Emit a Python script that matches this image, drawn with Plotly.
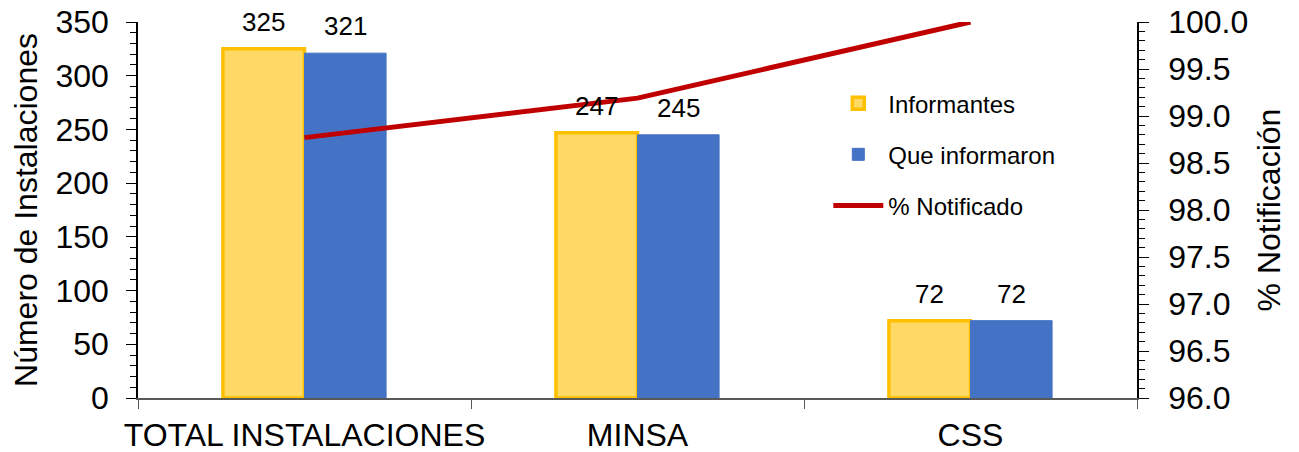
import plotly.graph_objects as go

categories = ["TOTAL INSTALACIONES", "MINSA", "CSS"]
informantes = [325, 247, 72]
que_informaron = [321, 245, 72]
pct_notificado = [98.77, 99.19, 100.0]

FONT = "Liberation Sans, Arial, sans-serif"

fig = go.Figure()
fig.add_trace(go.Bar(
    x=categories, y=informantes, name="Informantes",
    marker=dict(color="#FFD966", line=dict(color="#FFC000", width=3.5)),
    legendgroup="a",
))
fig.add_trace(go.Bar(
    x=categories, y=que_informaron, name="Que informaron",
    marker=dict(color="#4472C4", line=dict(color="#4472C4", width=1)),
    legendgroup="b",
))
fig.add_trace(go.Scatter(
    x=categories, y=pct_notificado, name="% Notificado", yaxis="y2",
    mode="lines", line=dict(color="#C00000", width=5),
    legendgroup="c",
))

annotations = []
for cat, v in zip(categories, informantes):
    annotations.append(dict(x=cat, y=v, xref="x", yref="y", text=str(v), showarrow=False,
                            xshift=-41, yshift=10, yanchor="bottom",
                            font=dict(size=26, color="black", family=FONT)))
for cat, v in zip(categories, que_informaron):
    annotations.append(dict(x=cat, y=v, xref="x", yref="y", text=str(v), showarrow=False,
                            xshift=41, yshift=10, yanchor="bottom",
                            font=dict(size=26, color="black", family=FONT)))

fig.update_layout(
    width=1291, height=444,
    margin=dict(l=130, r=162, t=14, b=54),
    paper_bgcolor="white", plot_bgcolor="white",
    font=dict(family=FONT, size=32, color="black"),
    barmode="group", bargap=0.51, bargroupgap=0,
    showlegend=True,
    legend=dict(x=0.691, y=0.843, xanchor="left", yanchor="top",
                font=dict(size=24, family=FONT), tracegroupgap=17,
                bgcolor="rgba(0,0,0,0)", itemwidth=50),
    xaxis=dict(
        showline=True, linecolor="#595959", linewidth=1.5, automargin=False, tickangle=0,
        ticks="outside", tickson="boundaries", ticklen=9, tickcolor="#595959",
        tickfont=dict(size=32, family=FONT), showgrid=False, ticklabelstandoff=8,
    ),
    yaxis=dict(
        range=[0, 350], dtick=50, showline=True, linecolor="black", linewidth=1.5,
        automargin=False, ticklabelstandoff=11, ticklabeloverflow="allow",
        ticks="outside", ticklen=10, tickcolor="black", showgrid=False, zeroline=False,
        minor=dict(dtick=10, ticks="outside", ticklen=6, tickcolor="black"),
        title=dict(text="Número de Instalaciones", font=dict(size=32, family=FONT), standoff=18),
        tickfont=dict(size=32, family=FONT),
    ),
    yaxis2=dict(
        range=[96, 100], dtick=0.5, tickformat=".1f", overlaying="y", side="right",
        showline=True, linecolor="black", linewidth=1.5, automargin=False,
        ticklabelstandoff=13, ticklabeloverflow="allow",
        ticks="outside", ticklen=10, tickcolor="black", showgrid=False, zeroline=False,
        minor=dict(dtick=0.1, ticks="outside", ticklen=6, tickcolor="black"),
        title=dict(text="% Notificación", font=dict(size=32, family=FONT), standoff=10),
        tickfont=dict(size=32, family=FONT),
    ),
    annotations=annotations,
)

fig.write_html("out.html")
